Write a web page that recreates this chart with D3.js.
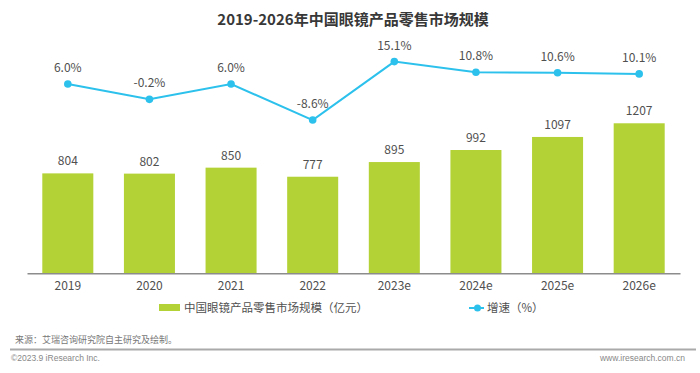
<!DOCTYPE html>
<html>
<head>
<meta charset="utf-8">
<script src="https://cdn.jsdelivr.net/npm/d3@7"></script>
<style>
  body { margin: 0; background: #fff; }
  text { font-family: "Noto Sans CJK SC", "Noto Sans", sans-serif; }
</style>
</head>
<body>
<script>
// data
var years = ["2019", "2020", "2021", "2022", "2023e", "2024e", "2025e", "2026e"];
var marketSize = [804, 802, 850, 777, 895, 992, 1097, 1207];   // 亿元
var growth = [6.0, -0.2, 6.0, -8.6, 15.1, 10.8, 10.6, 10.1];   // %

var title = "2019-2026年中国眼镜产品零售市场规模";
var barName = "中国眼镜产品零售市场规模（亿元）";
var lineName = "增速（%）";
var source = "来源：艾瑞咨询研究院自主研究及绘制。";

var w = 700, h = 373;
var barColor = "#b3d235", lineColor = "#2cc1ec", textColor = "#505050";

var svg = d3.select("body").append("svg")
  .attr("width", w)
  .attr("height", h);

var x = d3.scaleBand()
  .domain(years)
  .range([27, 680])
  .paddingInner(0.375)
  .paddingOuter(0.1875);

var yBar = d3.scaleLinear().domain([0, 1400]).range([273.3, 99.3]);
var yLine = d3.scaleLinear().domain([-10, 20]).range([123.5, 49.5]);

// title
svg.append("text")
  .attr("x", 353)
  .attr("y", 25)
  .attr("text-anchor", "middle")
  .style("font-size", "15px")
  .style("font-weight", "bold")
  .attr("fill", "#383838")
  .text(title);

// bars
svg.selectAll(".bar")
  .data(marketSize)
  .enter()
  .append("rect")
  .attr("class", "bar")
  .attr("x", (d, i) => x(years[i]))
  .attr("y", d => yBar(d))
  .attr("width", x.bandwidth())
  .attr("height", d => yBar(0) - yBar(d))
  .attr("fill", barColor);

svg.selectAll(".bar-label")
  .data(marketSize)
  .enter()
  .append("text")
  .attr("class", "bar-label")
  .attr("x", (d, i) => x(years[i]) + x.bandwidth() / 2)
  .attr("y", d => yBar(d) - 8)
  .attr("text-anchor", "middle")
  .style("font-size", "12px")
  .attr("fill", textColor)
  .text(d => d);

// x axis
var xAxis = svg.append("g")
  .attr("transform", `translate(0, ${yBar(0)})`)
  .call(d3.axisBottom(x).tickSize(0).tickPadding(8));
xAxis.select(".domain").attr("stroke", "#8c8c8c").attr("stroke-width", 1.5);
xAxis.selectAll("text")
  .style("font-size", "12px")
  .style("font-family", "\"Noto Sans CJK SC\", \"Noto Sans\", sans-serif")
  .attr("fill", textColor);

// growth line
var line = d3.line()
  .x((d, i) => x(years[i]) + x.bandwidth() / 2)
  .y(d => yLine(d));

svg.append("path")
  .datum(growth)
  .attr("d", line)
  .attr("fill", "none")
  .attr("stroke", lineColor)
  .attr("stroke-width", 2);

svg.selectAll(".dot")
  .data(growth)
  .enter()
  .append("circle")
  .attr("cx", (d, i) => x(years[i]) + x.bandwidth() / 2)
  .attr("cy", d => yLine(d))
  .attr("r", 3.8)
  .attr("fill", lineColor);

svg.selectAll(".line-label")
  .data(growth)
  .enter()
  .append("text")
  .attr("x", (d, i) => x(years[i]) + x.bandwidth() / 2)
  .attr("y", d => yLine(d) - 12)
  .attr("text-anchor", "middle")
  .style("font-size", "12px")
  .attr("fill", textColor)
  .text(d => d.toFixed(1) + "%");

// legend
var legend = svg.append("g").attr("transform", "translate(159, 308)");
legend.append("rect")
  .attr("x", 0).attr("y", -4)
  .attr("width", 21).attr("height", 7)
  .attr("fill", barColor);
legend.append("text")
  .attr("x", 25).attr("y", 4)
  .style("font-size", "11.5px")
  .attr("fill", textColor)
  .text(barName);

legend.append("line")
  .attr("x1", 310).attr("x2", 325)
  .attr("y1", 0).attr("y2", 0)
  .attr("stroke", lineColor)
  .attr("stroke-width", 2);
legend.append("circle")
  .attr("cx", 318.5).attr("cy", 0).attr("r", 3.5)
  .attr("fill", lineColor);
legend.append("text")
  .attr("x", 328).attr("y", 4)
  .style("font-size", "11.5px")
  .attr("fill", textColor)
  .text(lineName);

// footer
svg.append("text")
  .attr("x", 15).attr("y", 343)
  .style("font-size", "9px")
  .attr("fill", "#777")
  .text(source);

svg.append("line")
  .attr("x1", 10).attr("x2", 696)
  .attr("y1", 349.5).attr("y2", 349.5)
  .attr("stroke", "#aaa")
  .attr("stroke-width", 2);

svg.append("text")
  .attr("x", 11).attr("y", 361)
  .style("font-size", "8.5px")
  .style("font-family", "\"Liberation Sans\", Arial, sans-serif")
  .attr("fill", "#888")
  .text("©2023.9 iResearch Inc.");

svg.append("text")
  .attr("x", 685).attr("y", 361)
  .attr("text-anchor", "end")
  .style("font-size", "8.5px")
  .style("font-family", "\"Liberation Sans\", Arial, sans-serif")
  .attr("fill", "#888")
  .text("www.iresearch.com.cn");
</script>
</body>
</html>
